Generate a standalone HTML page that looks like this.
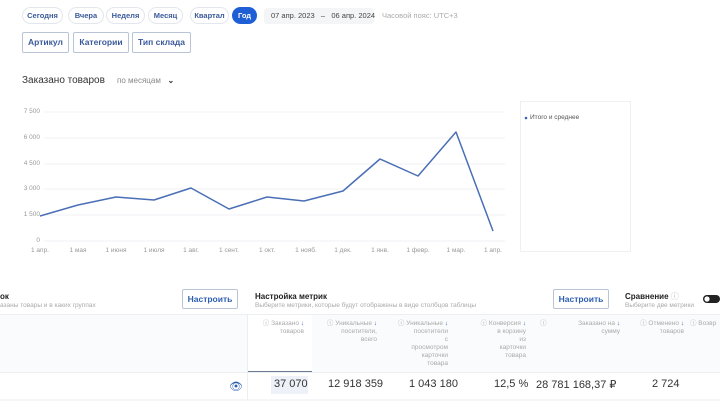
<!DOCTYPE html>
<html><head><meta charset="utf-8"><style>
*{box-sizing:border-box;margin:0;padding:0}
body{width:720px;height:401px;overflow:hidden;background:#fff;font-family:"Liberation Sans",sans-serif;position:relative;color:#222}
.a{position:absolute;white-space:nowrap}
.pill{position:absolute;top:7px;height:17px;border:1px solid #e3e6ec;border-radius:9px;font-size:7.5px;font-weight:bold;color:#3b5a9a;text-align:center;line-height:15px}
.btn{position:absolute;top:32px;height:21px;border:1px solid #b9c4d6;border-radius:2px;font-size:8.5px;font-weight:bold;color:#3b5a9a;text-align:center;line-height:19px}
.nb{position:absolute;height:20px;border:1px solid #b9c4d6;border-radius:2px;font-size:8.5px;font-weight:bold;color:#2d5fb0;text-align:center;line-height:18px}
.yl{position:absolute;font-size:6.5px;color:#999;text-align:right;width:40px;left:0}
.xl{position:absolute;top:247px;font-size:6.5px;color:#999;transform:translateX(-50%)}
.h{position:absolute;top:320px;font-size:6.5px;color:#aaa;line-height:8px;text-align:right}
</style></head><body>
<div class="pill" style="left:22px;width:41px">Сегодня</div>
<div class="pill" style="left:68px;width:36px">Вчера</div>
<div class="pill" style="left:106px;width:39px">Неделя</div>
<div class="pill" style="left:148px;width:35px">Месяц</div>
<div class="pill" style="left:190px;width:39px">Квартал</div>
<div class="pill" style="left:232px;width:25px;background:#1f5fd6;border-color:#1f5fd6;color:#fff">Год</div>
<div class="a" style="left:264px;top:8px;width:110px;height:16px;background:#f4f5f7;border-radius:3px"></div>
<div class="a" style="left:271px;top:11px;font-size:7.5px;color:#444">07 апр. 2023 &nbsp;&nbsp;–&nbsp;&nbsp; 06 апр. 2024</div>
<div class="a" style="left:382px;top:11px;font-size:7.5px;color:#aaa">Часовой пояс: UTC+3</div>
<div class="btn" style="left:22px;width:47px">Артикул</div>
<div class="btn" style="left:73px;width:56px">Категории</div>
<div class="btn" style="left:132px;width:59px">Тип склада</div>
<div class="a" style="left:22px;top:75px;font-size:10px;color:#333">Заказано товаров</div>
<div class="a" style="left:117px;top:76px;font-size:8px;color:#888">по месяцам &nbsp;&nbsp;<b style="color:#333">⌄</b></div>
<div class="yl" style="top:108px">7 500</div>
<div class="yl" style="top:134px">6 000</div>
<div class="yl" style="top:160px">4 500</div>
<div class="yl" style="top:185px">3 000</div>
<div class="yl" style="top:211px">1 500</div>
<div class="yl" style="top:237px">0</div>
<svg class="a" style="left:0;top:0" width="720" height="401">
<g stroke="#f1f2f4" stroke-width="1"><line x1="44" y1="112" x2="505" y2="112"/><line x1="44" y1="138" x2="505" y2="138"/><line x1="44" y1="164" x2="505" y2="164"/><line x1="44" y1="189" x2="505" y2="189"/><line x1="44" y1="215" x2="505" y2="215"/><line x1="44" y1="241" x2="505" y2="241"/></g>
<polyline fill="none" stroke="#4a6fb5" stroke-width="1.5" stroke-linejoin="round" points="40,216 78,205 116,197 154,200 191,188 229,209 267,197 304,201 343,191 380,159 418,176 456,132 493,231"/>
<rect x="520.5" y="101.5" width="110" height="150" fill="none" stroke="#eef0f3"/>
<circle cx="526" cy="118" r="1.3" fill="#3b5fb0"/>
<line x1="0" y1="314.5" x2="720" y2="314.5" stroke="#eceef1"/>
<rect x="0" y="315" width="720" height="57" fill="#fafbfc"/>
<rect x="248" y="315" width="64" height="57" fill="#fff"/>
<line x1="247.5" y1="315" x2="247.5" y2="401" stroke="#eceef1"/>
<line x1="248" y1="371.5" x2="312" y2="371.5" stroke="#6b7a90" stroke-width="1"/>
<line x1="0" y1="372.5" x2="720" y2="372.5" stroke="#eceef1"/>
<line x1="0" y1="400" x2="720" y2="400" stroke="#eceef1"/>
<rect x="271" y="376" width="37" height="18" fill="#eef2f8"/>
<rect x="703" y="295" width="17" height="8" rx="4" fill="#222"/><circle cx="707" cy="299" r="2.6" fill="#fff"/>
</svg>
<div class="a" style="left:530px;top:114px;font-size:6.5px;color:#555">Итого и среднее</div>
<div class="xl" style="left:40px">1 апр.</div><div class="xl" style="left:78px">1 мая</div><div class="xl" style="left:116px">1 июня</div><div class="xl" style="left:154px">1 июля</div><div class="xl" style="left:191px">1 авг.</div><div class="xl" style="left:229px">1 сент.</div><div class="xl" style="left:267px">1 окт.</div><div class="xl" style="left:306px">1 нояб.</div><div class="xl" style="left:343px">1 дек.</div><div class="xl" style="left:380px">1 янв.</div><div class="xl" style="left:418px">1 февр.</div><div class="xl" style="left:456px">1 мар.</div><div class="xl" style="left:493px">1 апр.</div>
<div class="a" style="left:0;top:292px;font-size:8px;font-weight:bold">ок</div>
<div class="a" style="left:0;top:302px;font-size:6.5px;color:#aaa">азаны товары и в каких группах</div>
<div class="nb" style="left:182px;top:289px;width:56px">Настроить</div>
<div class="a" style="left:255px;top:292px;font-size:8px;font-weight:bold">Настройка метрик</div>
<div class="a" style="left:255px;top:302px;font-size:6.5px;color:#aaa">Выберите метрики, которые будут отображены в виде столбцов таблицы</div>
<div class="nb" style="left:553px;top:289px;width:56px">Настроить</div>
<div class="a" style="left:625px;top:291px;font-size:8px;font-weight:bold">Сравнение <span style="color:#bbb;font-weight:normal">ⓘ</span></div>
<div class="a" style="left:625px;top:302px;font-size:6.5px;color:#aaa">Выберите две метрики</div>
<div class="h" style="left:254px;width:50px">ⓘ Заказано <span style="color:#3b5fb0">↓</span><br>товаров</div>
<div class="h" style="left:317px;width:60px">ⓘ Уникальные <span style="color:#3b5fb0">↓</span><br>посетители,<br>всего</div>
<div class="h" style="left:388px;width:60px">ⓘ Уникальные <span style="color:#3b5fb0">↓</span><br>посетители<br>с<br>просмотром<br>карточки<br>товара</div>
<div class="h" style="left:466px;width:60px">ⓘ Конверсия <span style="color:#3b5fb0">↓</span><br>в корзину<br>из<br>карточки<br>товара</div>
<div class="h" style="left:540px;width:80px"><span style="float:left">ⓘ</span>Заказано на <span style="color:#3b5fb0">↓</span><br>сумму</div>
<div class="h" style="left:622px;width:62px">ⓘ Отменено <span style="color:#3b5fb0">↓</span><br>товаров</div>
<div class="h" style="left:690px;width:40px;text-align:left">ⓘ Возвр</div>
<div class="a" style="left:229px;top:380px;font-size:11px;color:#2d5fb0">👁</div>
<div class="a" style="left:274px;top:378px;font-size:11px;color:#333">37 070</div>
<div class="a" style="left:328px;top:378px;font-size:11px;color:#333">12 918 359</div>
<div class="a" style="left:409px;top:378px;font-size:11px;color:#333">1 043 180</div>
<div class="a" style="left:494px;top:378px;font-size:11px;color:#333">12,5 %</div>
<div class="a" style="left:536px;top:378px;font-size:11px;color:#333">28 781 168,37 ₽</div>
<div class="a" style="left:652px;top:378px;font-size:11px;color:#333">2 724</div>
</body></html>
